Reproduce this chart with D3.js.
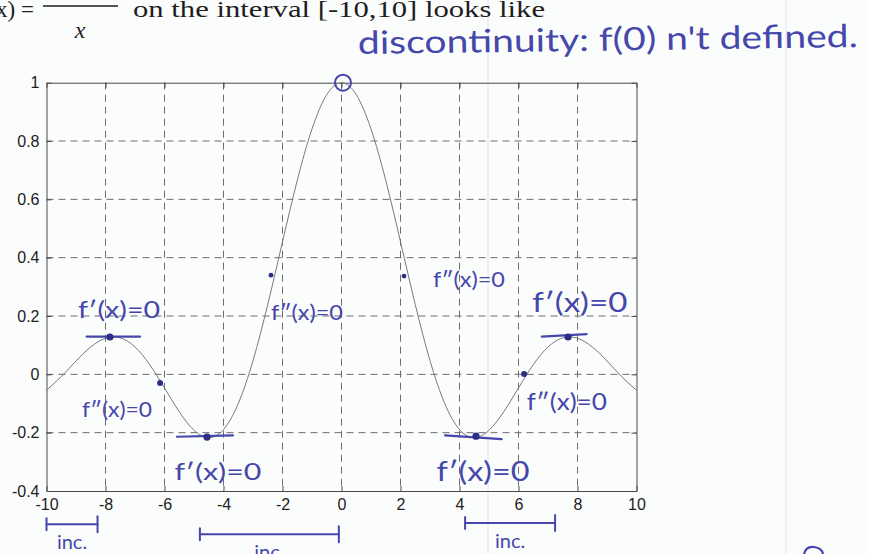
<!DOCTYPE html>
<html>
<head>
<meta charset="utf-8">
<script src="https://cdn.jsdelivr.net/npm/d3@7"></script>
<style>
  html, body { margin: 0; padding: 0; background: #fbfcfc; }
  svg { display: block; }
</style>
</head>
<body>
<svg id="chart" width="869" height="554"></svg>
<script>
// f(x) = sin(x)/x sampled on [-10, 10]
const xValues = [-10, -9.5, -9, -8.5, -8, -7.5, -7, -6.5, -6, -5.5, -5, -4.5, -4, -3.5, -3, -2.5, -2, -1.5, -1, -0.5,
                 0, 0.5, 1, 1.5, 2, 2.5, 3, 3.5, 4, 4.5, 5, 5.5, 6, 6.5, 7, 7.5, 8, 8.5, 9, 9.5, 10];
const yValues = [-0.0544, -0.0079, 0.0458, 0.0939, 0.1237, 0.1251, 0.0939, 0.0331, -0.0466, -0.1283, -0.1918, -0.2172,
                 -0.1892, -0.1002, 0.0470, 0.2394, 0.4546, 0.6650, 0.8415, 0.9589,
                 1.0, 0.9589, 0.8415, 0.6650, 0.4546, 0.2394, 0.0470, -0.1002, -0.1892, -0.2172, -0.1918, -0.1283,
                 -0.0466, 0.0331, 0.0939, 0.1251, 0.1237, 0.0939, 0.0458, -0.0079, -0.0544];

const xTicks = [-10, -8, -6, -4, -2, 0, 2, 4, 6, 8, 10];
const yTicks = [-0.4, -0.2, 0, 0.2, 0.4, 0.6, 0.8, 1];
const xTickLabels = ["-10", "-8", "-6", "-4", "-2", "0", "2", "4", "6", "8", "10"];
const yTickLabels = ["-0.4", "-0.2", "0", "0.2", "0.4", "0.6", "0.8", "1"];

// hand-marked points on the curve
const dotX = [-7.85, -6.15, -4.56, -2.39, 2.12, 4.56, 6.19, 7.68];
const dotY = [0.128, -0.030, -0.215, 0.340, 0.337, -0.212, 0.001, 0.128];
const dotR = [3.6, 3, 3.6, 2.4, 2.4, 3.6, 3, 3.6];

// horizontal tangents at the extrema
const tanX1 = [-8.64, -5.58, 3.51, 6.79];
const tanX2 = [-6.83, -3.68, 5.43, 8.31];
const tanY1 = [0.129, -0.214, -0.209, 0.129];
const tanY2 = [0.129, -0.209, -0.222, 0.138];

// derivative notes
const noteText = ["f′(x)=0", "f″(x)=0", "f′(x)=0", "f″(x)=0", "f″(x)=0", "f′(x)=0", "f″(x)=0", "f′(x)=0"];
const noteX = [-7.54, -7.61, -4.19, -1.17, 4.32, 8.08, 7.64, 4.80];
const noteY = [0.225, -0.116, -0.329, 0.214, 0.330, 0.248, -0.088, -0.332];
const noteW = [82, 70, 87, 72, 72, 95, 80, 93];
const noteSize = [24, 22, 24, 22, 22, 26, 24, 26];

// intervals where f increases
const incFrom = [-10, -4.8, 4.19];
const incTo = [-8.27, -0.09, 7.24];
const incLabel = ["inc.", "inc.", "inc."];

const holeX = 0.05, holeY = 1.0;

const svg = d3.select("#chart");
const ink = "#4547ab";
const hand = "'Lato', 'Open Sans', sans-serif";

const x = d3.scaleLinear().domain([-10, 10]).range([46.5, 636.5]);
const y = d3.scaleLinear().domain([-0.4, 1]).range([491, 82.7]);

// faint ruling on the sheet
[488, 786].forEach(px => {
  svg.append("line").attr("x1", px).attr("x2", px).attr("y1", 0).attr("y2", 554)
    .attr("stroke", "#eaeaf3").attr("stroke-width", 1.5);
});

// typed heading above the figure
svg.append("text").attr("x", 34).attr("y", 17).attr("text-anchor", "end")
  .attr("font-family", "'Liberation Serif', serif").attr("font-size", 23).attr("fill", "#1e1e1e")
  .text("f(x) =");
svg.append("line").attr("x1", 43).attr("x2", 118).attr("y1", 6).attr("y2", 6)
  .attr("stroke", "#1e1e1e").attr("stroke-width", 1.3);
svg.append("text").attr("x", 80).attr("y", 38).attr("text-anchor", "middle")
  .attr("font-family", "'Liberation Serif', serif").attr("font-style", "italic")
  .attr("font-size", 24).attr("fill", "#1e1e1e").text("x");
svg.append("text").attr("x", 133).attr("y", 17)
  .attr("font-family", "'Liberation Serif', serif").attr("font-size", 24).attr("fill", "#1e1e1e")
  .attr("textLength", 412).attr("lengthAdjust", "spacingAndGlyphs")
  .text("on the interval [-10,10] looks like");

// grid
const grid = svg.append("g").attr("stroke", "#6c6c6c").attr("stroke-width", 1)
  .attr("stroke-dasharray", "7,5");
grid.selectAll("line.v").data(xTicks.slice(1, -1)).join("line")
  .attr("x1", d => x(d)).attr("x2", d => x(d)).attr("y1", y(1)).attr("y2", y(-0.4));
grid.selectAll("line.h").data(yTicks.slice(1, -1)).join("line")
  .attr("x1", x(-10)).attr("x2", x(10)).attr("y1", d => y(d)).attr("y2", d => y(d));

// axes with inward ticks
const axisStyle = g => {
  g.attr("font-size", 16).attr("font-family", "'Liberation Sans', Arial, sans-serif");
  g.select(".domain").attr("stroke", "#4a4a4a");
  g.selectAll(".tick line").attr("stroke", "#4a4a4a");
  g.selectAll("text").attr("fill", "#222");
};
svg.append("g").attr("transform", `translate(0,${y(-0.4)})`)
  .call(d3.axisBottom(x).tickValues(xTicks).tickFormat((d, i) => xTickLabels[i])
    .tickSizeInner(-5).tickSizeOuter(0).tickPadding(8))
  .call(axisStyle);
svg.append("g").attr("transform", `translate(${x(-10)},0)`)
  .call(d3.axisLeft(y).tickValues(yTicks).tickFormat((d, i) => yTickLabels[i])
    .tickSizeInner(-5).tickSizeOuter(0).tickPadding(7))
  .call(axisStyle);
svg.append("g").attr("transform", `translate(0,${y(1)})`)
  .call(d3.axisTop(x).tickValues(xTicks).tickFormat("").tickSizeInner(-5).tickSizeOuter(0))
  .call(axisStyle);
svg.append("g").attr("transform", `translate(${x(10)},0)`)
  .call(d3.axisRight(y).tickValues(yTicks).tickFormat("").tickSizeInner(-5).tickSizeOuter(0))
  .call(axisStyle);

// the curve
const pts = xValues.map((v, i) => [v, yValues[i]]);
svg.append("path").datum(pts)
  .attr("fill", "none").attr("stroke", "#7a7a7a").attr("stroke-width", 1)
  .attr("d", d3.line().x(d => x(d[0])).y(d => y(d[1])).curve(d3.curveNatural));

// ink annotations
const notes = svg.append("g").attr("fill", ink);

svg.append("circle").attr("cx", x(holeX)).attr("cy", y(holeY)).attr("r", 8)
  .attr("fill", "none").attr("stroke", ink).attr("stroke-width", 2);

svg.selectAll("line.tan").data(tanX1).join("line")
  .attr("x1", (d, i) => x(tanX1[i])).attr("x2", (d, i) => x(tanX2[i]))
  .attr("y1", (d, i) => y(tanY1[i])).attr("y2", (d, i) => y(tanY2[i]))
  .attr("stroke", ink).attr("stroke-width", 2.2).attr("stroke-linecap", "round");

svg.selectAll("circle.dot").data(dotX).join("circle")
  .attr("cx", (d, i) => x(dotX[i])).attr("cy", (d, i) => y(dotY[i])).attr("r", (d, i) => dotR[i])
  .attr("fill", "#2c2d85");

notes.selectAll("text").data(noteText).join("text")
  .attr("x", (d, i) => x(noteX[i])).attr("y", (d, i) => y(noteY[i]))
  .attr("text-anchor", "middle").attr("dominant-baseline", "central")
  .attr("font-family", hand).attr("font-size", (d, i) => noteSize[i])
  .attr("textLength", (d, i) => noteW[i]).attr("lengthAdjust", "spacingAndGlyphs")
  .text(d => d);

// note on the hole at x = 0, written on a slight upward slant
svg.append("text").attr("x", 358).attr("y", 54)
  .attr("transform", "rotate(-0.8 358 54)")
  .attr("font-family", hand).attr("font-size", 32).attr("fill", ink)
  .attr("textLength", 500).attr("lengthAdjust", "spacingAndGlyphs")
  .text("discontinuity: f(0) n't defined.");

// brackets under the axis marking increasing intervals
const incRow = [-0.514, -0.548, -0.51];
incFrom.forEach((a, i) => {
  const b = incTo[i], yy = y(incRow[i]);
  const g = svg.append("g").attr("stroke", ink).attr("stroke-width", 2).attr("stroke-linecap", "round");
  g.append("line").attr("x1", x(a)).attr("x2", x(b)).attr("y1", yy).attr("y2", yy);
  g.append("line").attr("x1", x(a)).attr("x2", x(a)).attr("y1", yy - 6).attr("y2", yy + 6);
  g.append("line").attr("x1", x(b)).attr("x2", x(b)).attr("y1", yy - 8).attr("y2", yy + 8);
  svg.append("text").attr("x", (x(a) + x(b)) / 2).attr("y", yy + 25)
    .attr("text-anchor", "middle").attr("font-family", hand).attr("font-size", 20)
    .attr("fill", ink).text(incLabel[i]);
});

// stray pen mark at the sheet corner
svg.append("path").attr("d", "M804,554 Q806,546 814,547 Q822,548 823,554")
  .attr("fill", "none").attr("stroke", ink).attr("stroke-width", 2.2);
</script>
</body>
</html>
